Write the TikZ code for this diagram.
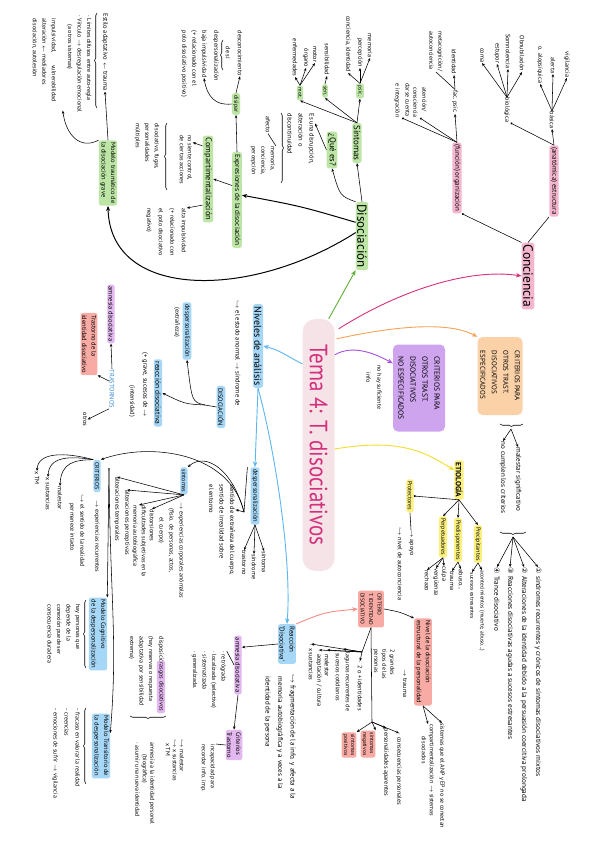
\documentclass[tikz,border=0pt]{standalone}
\usepackage{fontspec}
\setmainfont{PT Sans}
\newfontfamily\dv{DejaVu Sans}
\usetikzlibrary{arrows.meta,calc,decorations.pathreplacing}
\definecolor{cgreen}{HTML}{BDE6A6}
\definecolor{cblue}{HTML}{A7D7F7}
\definecolor{cpink}{HTML}{F4B6CF}
\definecolor{corange}{HTML}{FBD2A8}
\definecolor{cpurple}{HTML}{CFA4EE}
\definecolor{clav}{HTML}{E3B7EF}
\definecolor{cyellow}{HTML}{FBF07E}
\definecolor{csalmon}{HTML}{F8AAA4}
\definecolor{ctitlebg}{HTML}{F6E3E7}
\definecolor{ctitle}{HTML}{D3307C}
\definecolor{agreen}{HTML}{5FAE3A}
\definecolor{amag}{HTML}{D8307E}
\definecolor{aorange}{HTML}{F6A255}
\definecolor{apurple}{HTML}{A651E2}
\definecolor{ayellow}{HTML}{F4DD2C}
\definecolor{ablue}{HTML}{5CB6F2}
\definecolor{asalmon}{HTML}{F48E86}
\definecolor{tblue}{HTML}{3B8ED9}
\begin{document}
\begin{tikzpicture}[x=1pt,y=1pt,
  tx/.style={rotate=-90, anchor=west, inner sep=0.5pt, align=left, font=\fontsize{6.2}{7.5}\selectfont},
  hlb/.style={tx, anchor=center, rounded corners=2.5pt, inner xsep=2.2pt, inner ysep=1.4pt},
  gbox/.style={hlb, fill=cgreen},
  bbox/.style={hlb, fill=cblue},
  pbox/.style={hlb, fill=clav},
  sbox/.style={hlb, fill=csalmon},
  ybox/.style={hlb, fill=cyellow},
  kbox/.style={hlb, fill=cpink},
  ln/.style={draw=black, line width=0.55pt},
  ar/.style={ln, -{Stealth[length=3.2pt,width=2.6pt]}},
  dt/.style={ln, -{Circle[length=2pt]}},
  bar/.style={draw=black, line width=1pt, -{Stealth[length=5pt,width=4pt]}},
  mar/.style={line width=0.9pt, -{Stealth[length=5.5pt,width=4.5pt]}},
  brc/.style={ln, decorate, decoration={brace, amplitude=2.5pt}},
  brcm/.style={ln, decorate, decoration={brace, amplitude=2.5pt, mirror}}
]
\fill[white] (0,0) rectangle (600,-848);
\useasboundingbox (0,0) rectangle (600,-848);

% ---------- title ----------
\node[rotate=-90, fill=ctitlebg, rounded corners=13pt, text=ctitle, font=\fontsize{25}{27}\selectfont, minimum width=252pt, minimum height=32pt, inner sep=0pt] (tema) at (318.5,-445) {\scalebox{0.84}[1]{Tema 4: T. disociativos}};

% ---------- main nodes ----------
\node[gbox, font=\fontsize{13}{15}\selectfont] (dis) at (362,-236) {Disociación};
\node[kbox, font=\fontsize{13.5}{15}\selectfont] (conc) at (528,-276) {Conciencia};
\node[bbox, font=\fontsize{10}{12}\selectfont] (niv) at (258,-346) {Niveles de análisis};
\node[hlb, fill=corange, rounded corners=5pt, font=\fontsize{7}{11.5}\selectfont, minimum width=78pt, minimum height=45pt] (oesp) at (500,-376) {CRITERIOS PARA\\OTROS TRAST.\\DISOCIATIVOS\\ESPECIFICADOS};
\node[hlb, fill=cpurple, rounded corners=5pt, font=\fontsize{7.5}{12}\selectfont, minimum width=87pt, minimum height=52pt] (pne) at (419,-388) {CRITERIOS PARA\\OTROS TRAST.\\DISOCIATIVOS\\NO ESPECIFICADOS};
\node[ybox, font=\bfseries\fontsize{7.5}{9}\selectfont] (eti) at (459,-480) {ETIOLOGÍA};
\node[bbox, font=\fontsize{7}{10}\selectfont] (reac) at (287,-644) {Reacción\\`Disociativa'};

% ---------- main coloured arrows ----------
\draw[mar, agreen] ($(tema.north west)+(-6,0)$) -- (dis.south east);
\draw[mar, amag] ($(tema.north west)+(4,-10)$) .. controls (400,-290) and (470,-268) .. (conc.south);
\draw[mar, aorange] ($(tema.north west)+(2,-20)$) .. controls (400,-325) and (450,-322) .. (oesp.south west);
\draw[mar, apurple] ($(tema.north west)+(0,-36)$) .. controls (352,-345) and (372,-352) .. ($(pne.south west)+(0,-19)$);
\draw[mar, ayellow] ($(tema.north)+(0,-4)$) .. controls (400,-438) and (425,-452) .. ($(eti.south west)!0.25!(eti.south east)$);
\draw[mar, ablue] ($(tema.south west)+(0,-45)$) .. controls (290,-358) and (280,-350) .. (niv.north);

% ---------- Disociación subtree ----------
\node[gbox, font=\fontsize{9}{10}\selectfont] (sint) at (357,-143) {Síntomas};
\node[gbox, font=\fontsize{8.5}{10}\selectfont] (qes) at (332,-150) {¿Qué es?};
\node[gbox, font=\fontsize{7.3}{9}\selectfont] (exd) at (237,-200) {Expresiones de la disociación};
\node[gbox, font=\fontsize{8.3}{9}\selectfont] (cmp) at (208,-179) {Compartimentalización};
\node[gbox, font=\fontsize{6}{7}\selectfont] (dsp) at (236,-104) {disipar};
\node[gbox, font=\fontsize{6.5}{9.5}\selectfont] (mtg) at (108,-173) {Modelo traumático de\\la disociación grave};

\draw[ar] (dis.west) -- (sint.east);
\draw[ar] (dis.south west) .. controls (340,-196) .. (qes.east);
\draw[bar] ($(dis.south west)!0.3!(dis.south east)$) .. controls (300,-206) .. ($(exd.north west)!0.45!(exd.north east)$);
\draw[bar] ($(dis.south west)!0.45!(dis.south east)$) .. controls (250,-300) and (110,-300) .. (mtg.east);

% Síntomas
\node[gbox, font=\fontsize{5.5}{6}\selectfont] (ps) at (360,-91) {psic.};
\node[gbox, font=\fontsize{5.5}{6}\selectfont] (se) at (325,-91) {sen.};
\node[gbox, font=\fontsize{5.5}{6}\selectfont] (mo) at (300,-93) {mot.};
\draw[ar] (sint.west) -- (ps.east);
\draw[ar] (sint.west) -- (se.east);
\draw[ar] (sint.west) -- (mo.east);
\node[tx, anchor=east] (ps1) at (370,-58) {memoria};
\node[tx, anchor=east] (ps2) at (360,-68) {percepción};
\node[tx, anchor=east] (ps3) at (348,-73) {conciencia, identidad};
\draw[ar] (ps.west) -- (ps1.east);
\draw[ar] (ps.west) -- (ps2.east);
\draw[ar] (ps.west) -- (ps3.east);
\node[tx, anchor=east] (se1) at (327,-76) {sensibilidad};
\draw[ar] (se.west) -- (se1.east);
\node[tx, anchor=east] (mo1) at (315,-63) {motor};
\node[tx, anchor=east] (mo2) at (306,-68) {órgano};
\node[tx, anchor=east] (mo3) at (295,-77) {enfermedades};
\draw[ar] (mo.west) -- (mo1.east);
\draw[ar] (mo.west) -- (mo2.east);
\draw[ar] (mo.west) -- (mo3.east);

% ¿Qué es?
\node[tx, font=\fontsize{6.5}{11}\selectfont] (eud) at (301,-113) {Es una disrupción,\\alteración o\\discontinuidad};
\draw[ar] (qes.south) -- ($(eud.north west)!0.2!(eud.north east)$);
\draw[brc] (281,-113) -- (281,-183);
\node[tx] (afe) at (268,-116) {afecto};
\node[tx, font=\fontsize{6}{9.5}\selectfont] (mcp) at (263,-146) {memoria,\\conciencia,\\percepción};
\draw[ln] (afe.east) -- (mcp.north west);

% Expresiones
\draw[ar] ($(exd.south west)!0.35!(exd.south east)$) -- (cmp.north);
\draw[ar] (exd.west) -- (dsp.east);
\node[tx] (dc1) at (240,-30) {desconocimiento};
\node[tx] (dc2) at (228,-46) {de sí};
\node[tx] (dc3) at (216,-30) {despersonalización};
\node[tx] (dc4) at (204,-30) {baja impulsividad};
\node[tx] (dc5) at (194,-30) {(+ relacionado con el};
\node[tx] (dc6) at (184,-30) {polo disociativo positivo)};
\draw[brcm] (223,-40) -- (223,-70);
\draw[ar] (dsp.west) -- (dc1.east);
\draw[ar] (dsp.south) .. controls (215,-106) and (207,-96) .. (dc4.east);

% Compartimentalización
\node[tx, font=\fontsize{6}{8}\selectfont] (nsc) at (186,-135) {no siente control,\\de ciertas acciones};
\draw[brcm] (167,-123) -- (167,-190);
\node[tx, font=\fontsize{6}{9.5}\selectfont] (pm) at (147,-123) {disociativa, fugas,\\personalidades\\múltiples};
\draw[ar] ($(cmp.south west)!0.12!(cmp.south east)$) -- ($(nsc.north west)!0.15!(nsc.north east)$);
\node[tx, font=\fontsize{6}{11.5}\selectfont] (ai) at (166,-208) {alta impulsividad\\(+ relacionado con\\el polo disociativo\\negativo)};
\draw[ar] ($(cmp.south west)!0.8!(cmp.south east)$) -- (ai.north west);

% Modelo traumático
\node[tx, font=\fontsize{6.5}{8}\selectfont] (esa) at (105,-13) {Estilo adaptativo $\leftarrow$ trauma};
\draw[ar] (mtg.west) -- (esa.east);
\draw[brcm] (97,-13) -- (97,-108);
\node[tx, font=\fontsize{6}{9.5}\selectfont] (lim) at (79,-15) {· Límites difusos entre auto-regla\\· Vínculo $\to$ desregulación emocional\\\hspace*{1.5em}(a otros sistemas)};
\node[tx, font=\fontsize{6}{9.5}\selectfont] (imp) at (44,-18) {impulsividad, \hspace{1.5em} vulnerabilidad\\alteración $\leftarrow$ mediadores\\disociación, autolesión};
\draw[ar] (mtg.south west) .. controls (80,-150) and (66,-135) .. ($(imp.north east)+(6,-8)$);

% ---------- Conciencia subtree ----------
\node[kbox, font=\fontsize{7}{8}\selectfont] (est) at (554,-181) {(anatómica) estructura};
\node[kbox, font=\fontsize{7}{8}\selectfont] (org) at (457,-178) {(función) organización};
\draw[ln] (conc.west) -- (est.south east);
\draw[dt] (conc.south west) -- (org.north east);
\node[tx, anchor=east] (bas) at (552,-129) {básica};
\draw[ar] (est.west) -- (bas.east);
\node[tx, anchor=east] (b1) at (567,-78) {vigilancia};
\node[tx, anchor=east] (b2) at (553,-74) {alerta};
\node[tx, anchor=east] (b3) at (540,-84) {o. alopsíquica};
\draw[ar] (bas.west) -- (b1.east);
\draw[ar] (bas.west) -- (b2.east);
\draw[ar] (bas.west) -- (b3.east);
\node[tx, anchor=east] (bio) at (507,-123) {biológica};
\draw[dt] (est.west) -- (bio.north east);
\node[tx, anchor=east] (c1n) at (522,-72) {Obnubilación};
\node[tx, anchor=east] (c2n) at (508,-69) {Somnolencia};
\node[tx, anchor=east] (c3n) at (497,-64) {estupor};
\node[tx, anchor=east] (c4n) at (482,-63) {coma};
\draw[ar] (bio.west) -- (c1n.east);
\draw[ar] (bio.west) -- (c2n.east);
\draw[ar] (bio.west) -- (c3n.east);
\draw[ar] (bio.west) -- (c4n.east);
\node[tx, anchor=east] (fps) at (455,-114) {fac. psic.};
\draw[ar] (org.west) -- (fps.east);
\node[tx, anchor=east] (idd) at (454,-75) {identidad};
\draw[ar] (fps.west) -- (idd.east);
\node[tx, anchor=east, font=\fontsize{6}{9}\selectfont] (mtc) at (436,-72) {metacognición/\\autoconciencia};
\draw[ln] (fps.west) -- (mtc.east);
\node[tx, anchor=east, font=\fontsize{6}{9}\selectfont] (atc) at (420,-118) {atención/\\consciencia};
\draw[dt] (org.west) -- (atc.east);
\node[tx, anchor=east, font=\fontsize{6}{10}\selectfont] (dci) at (402,-118) {darse cuenta\\e integración};
\draw[dt] (org.west) -- (dci.east);

% ---------- especificados ----------
\draw[brc] (523,-424) -- (500,-424);
\coordinate (br1) at (511,-429);
\node[tx, font=\fontsize{7}{8}\selectfont] (ms) at (518,-447) {malestar significativo};
\node[tx, font=\fontsize{7}{8}\selectfont] (nc) at (503,-441) {no cumplen los criterios};
\draw[ar] (br1) -- (ms.west);
\draw[ar] (br1) -- (nc.west);
\draw[brc] (526,-532) -- (500,-532);
\coordinate (br2) at (513,-537);
\node[tx, font=\fontsize{7.2}{8}\selectfont] (i1) at (538,-567) {{\dv ①} síndromes recurrentes y crónicos de síntomas disociativos mixtos};
\node[tx, font=\fontsize{7.2}{8}\selectfont] (i2) at (524,-567) {{\dv ②} Alteraciones de la identidad debido a la persuasión coercitiva prolongada};
\node[tx, font=\fontsize{7.2}{8}\selectfont] (i3) at (510,-567) {{\dv ③} Reacciones disociativas agudas a sucesos estresantes};
\node[tx, font=\fontsize{7.2}{8}\selectfont] (i4) at (497,-567) {{\dv ④} Trance disociativo};
\draw[ar] (br2) -- (i1.west);
\draw[ar] (br2) -- (i2.west);
\draw[ar] (br2) -- (i3.west);
\draw[ar] (br2) -- (i4.west);

% ---------- no especificados ----------
\node[tx, font=\fontsize{6}{11}\selectfont] (nhs) at (374,-365) {no hay suficiente\\\hspace*{1.2em}info};

% ---------- Etiología ----------
\node[ybox, font=\fontsize{6}{7}\selectfont] (prec) at (478,-544) {Precipitantes};
\node[ybox, font=\fontsize{6}{7}\selectfont] (pred) at (458,-540) {Predisponentes};
\node[ybox, font=\fontsize{6}{7}\selectfont] (perp) at (443,-537) {Perpetuadores};
\node[ybox, font=\fontsize{6}{7}\selectfont] (prot) at (410,-496) {Protectores};
\draw[ar] (eti.east) -- (prec.west);
\draw[ar] (eti.east) -- (pred.west);
\draw[ar] (eti.east) -- (perp.west);
\draw[dt] (eti.east) -- (prot.north);
\node[tx] (pt1) at (411,-530) {$\to$ apoyo};
\node[tx] (pt2) at (400,-527) {$\hookrightarrow$ nivel de autoconciencia};
\draw[ln] (prot.east) -- (pt1.west);
\node[tx, font=\fontsize{5.5}{7}\selectfont] (pc1) at (482,-570) {acontecimientos (muerte, abuso...)};
\node[tx, font=\fontsize{5.5}{7}\selectfont] (pc2) at (472,-572) {sucesos estresantes};
\draw[ar] (prec.east) -- (pc1.west);
\draw[ar] (prec.east) -- (pc2.west);
\node[tx] (pd1) at (461,-569) {abuso...};
\node[tx] (pd2) at (452,-571) {trauma};
\draw[ar] (pred.east) -- (pd1.west);
\draw[ar] (pred.east) -- (pd2.west);
\node[tx] (pp1) at (444,-566) {culpa};
\node[tx] (pp2) at (436,-568) {vergüenza};
\node[tx] (pp3) at (427,-570) {rechazo};
\draw[ar] (perp.east) -- (pp1.west);
\draw[ar] (perp.east) -- (pp2.west);
\draw[ar] (perp.east) -- (pp3.west);

% ---------- Niveles de análisis ----------
\node[tx, font=\fontsize{6.5}{8}\selectfont] (eea) at (238,-300) {$\hookrightarrow$ el estado anormal $\to$ síndrome de};
\node[bbox, font=\fontsize{6.5}{8}\selectfont] (dsn) at (221,-407) {DISOCIACIÓN};
\coordinate (b1) at (205,-405);
\draw[ln] (dsn.south) -- (b1);
\node[bbox, font=\fontsize{6.5}{8}\selectfont] (desp) at (187,-331) {despersonalización};
\node[tx] (ext) at (177,-307) {(extrañeza)};
\node[bbox, font=\fontsize{7.5}{9}\selectfont] (rdi) at (158,-393) {reacción disociativa};
\node[tx, font=\fontsize{6.5}{8}\selectfont] (grv) at (145,-352) {(+ grave, sucesos de $\to$};
\node[tx] (inten) at (132,-385) {(intensidad)};
\draw[ar] (b1) .. controls (192,-402) .. (desp.east);
\draw[ar] (b1) .. controls (185,-404) .. (rdi.north);
\node[tx, text=tblue, font=\fontsize{6.5}{8}\selectfont] (tra) at (112,-369) {TRASTORNOS};
\node[pbox, font=\fontsize{6.5}{8}\selectfont] (amd) at (111,-314) {amnesia disociativa};
\node[sbox, font=\fontsize{6.5}{9.5}\selectfont] (tid) at (89,-344) {Trastorno de la\\identidad disociativo};
\node[tx] (otr) at (85,-412) {otros};
\draw[ar] (tra.west) -- (amd.east);
\draw[ar] ($(tra.south west)!0.3!(tra.south east)$) -- (tid.north east);
\draw[ar] (tra.south east) -- (otr.north);

% ---------- despersonalización ----------
\draw[mar, ablue] (niv.east) -- ($(niv.east)+(-3,-79)$) coordinate (dtop);
\node[bbox, font=\fontsize{6.5}{8}\selectfont, anchor=west] (desp2) at (dtop) {despersonalización};
\node[tx] (s1) at (264,-551) {síntoma};
\node[tx] (s2) at (254,-554) {síndrome};
\node[tx] (s3) at (244,-550) {trastorno};
\draw[ar] (desp2.east) -- (s1.west);
\draw[ar] (desp2.east) -- (s2.west);
\draw[ar] (desp2.east) -- (s3.west);
\node[tx, font=\fontsize{6.5}{10.5}\selectfont] (sec) at (222,-484) {sentido de extrañeza del cuerpo,\\sentido de irrealidad sobre\\el entorno};
\coordinate (dp) at (244,-512);
\draw[ln] ($(desp2.south west)+(-3,0)$) -- (dp);
\draw[ar] (dp) -- ($(sec.north west)!0.28!(sec.north east)$);
\node[bbox, font=\fontsize{6}{7}\selectfont] (sint2) at (184,-481) {síntomas};
\node[bbox, font=\fontsize{6}{7}\selectfont] (crit) at (97,-476) {CRITERIOS};
\draw[ar] (dp) .. controls (232,-468) and (205,-452) .. (sint2.north west);
\draw[ar] (dp) .. controls (230,-452) and (150,-442) .. (crit.north west);
\coordinate (c1) at (109,-468);
\node[tx, font=\fontsize{6}{7}\selectfont] (exr) at (97,-500) {$\to$ experiencias recurrentes};
\node[tx, font=\fontsize{6}{10}\selectfont] (srp) at (77,-494) {$\hookrightarrow$ el sentido de la realidad\\\hspace*{1.5em}permanece intacto};
\node[tx] (k1) at (60,-486) {malestar};
\node[tx] (k2) at (48,-477) {x sustancias};
\node[tx] (k3) at (37,-471) {x TM};
\draw[ar] (crit.south west) .. controls (75,-460) and (61,-462) .. (k1.west);
\draw[ar] (crit.south west) .. controls (70,-456) and (49,-456) .. (k2.west);
\draw[ar] (crit.south west) .. controls (65,-452) and (38,-452) .. (k3.west);
\node[tx, font=\fontsize{6}{10}\selectfont] (eca) at (171,-502) {$\to$ experiencias corporales anómalas\\\hspace*{1em}(fisio. de personas, actos,\\\hspace*{2.5em}el cuerpo)};
\node[tx] (d1) at (152,-509) {distorsiones};
\node[tx, font=\fontsize{6}{8.5}\selectfont] (d2) at (139,-505) {dificultades subjetivas en la\\memoria autobiográfica};
\node[tx] (d3) at (127,-490) {alteraciones perceptivas};
\node[tx] (d4) at (117,-477) {alteraciones temporales};
\draw[ar] (sint2.east) -- (d1.west);
\draw[ar] (sint2.east) -- (d2.west);
\draw[ar] (sint2.east) -- (d3.west);
\draw[ar] (sint2.east) -- (d4.west);

% Modelos
\node[bbox, font=\fontsize{6.5}{9.5}\selectfont] (mc) at (98,-634) {Modelo Cognitivo\\de la despersonalización};
\node[bbox, font=\fontsize{6.5}{9.5}\selectfont] (mt) at (101,-746) {Modelo Transitorio de\\la despersonalización};
\draw[ar] (c1) -- (mc.north west);
\draw[ar] (c1) .. controls (110,-600) and (118,-640) .. ($(mt.north west)!0.3!(mt.north east)$);
\draw[brcm] (86,-600) -- (86,-668);
\node[tx, font=\fontsize{6}{9.5}\selectfont] (hpq) at (64,-604) {hay personas que\\depende de la\\conexión puede ser\\consecuencia duradera};
\draw[brcm] (86,-708) -- (86,-784);
\node[tx, font=\fontsize{6}{11}\selectfont] (fvr) at (66,-708) {- fracaso en valorar la realidad\\- creencias\\- emociones de sufrir $\to$ vigilancia};

% ---------- Reacción ----------
\draw[mar, ablue] (niv.east) .. controls (275,-450) and (292,-560) .. (reac.west);
\node[pbox, font=\fontsize{6.5}{8}\selectfont] (am2) at (238,-665) {amnesia disociativa};
\draw[ar] (reac.south) -- ($(am2.north west)!0.2!(am2.north east)$);
\node[tx, font=\fontsize{7}{12.5}\selectfont] (frg) at (280,-674) {$\hookrightarrow$ fragmentación de la info. y afecta a la\\\hspace*{0.3em}memoria autobiográfica y a veces a la\\\hspace*{0.3em}identidad de la persona};
\node[sbox, font=\fontsize{5.5}{8.5}\selectfont, inner sep=2.5pt] (crt) at (371,-609) {CRITERIO\\T. IDENTIDAD\\DISOCIATIVO};
\draw[mar, asalmon] (reac.north west) .. controls (325,-612) .. (crt.south);

\node[tx, font=\fontsize{6}{9.5}\selectfont] (am2l) at (209,-651) {· retrógrada\\· localizada (selectiva)\\· sistematizada\\· generalizada.};
\draw[ln] (am2.south) -- (am2l.north west);
\node[pbox, font=\fontsize{6.5}{9}\selectfont] (ct) at (234,-745) {Criterios\\Trastorno};
\draw[ar] (am2.east) -- (ct.west);
\node[tx, font=\fontsize{6}{9}\selectfont] (icp) at (208,-744) {incapacidad para\\recordar info. imp.};
\draw[ln] (ct.south) -- (icp.north west);
\node[tx, font=\fontsize{6}{7}\selectfont] (mxt) at (175,-739) {$\hookrightarrow$ malestar\\$\hookrightarrow$ x sustancias\\\hspace*{0.6em}x TM};
\node[tx, font=\fontsize{6}{7.5}\selectfont] (aip) at (145,-742) {amnesia a la identidad personal\\\hspace*{2em}(biográfica)\\· asumir una nueva identidad};
\node[tx] (dsp0) at (161,-636) {disposición};
\node[pbox, font=\fontsize{6}{7}\selectfont] (rgd) at (161,-687) {rasgos disociativos};
\node[tx, font=\fontsize{6}{9.5}\selectfont] (hrr) at (141,-636) {(hay reservas o respuesta\\adaptativa por sensibilidad\\extrema)};
\draw[brcm] (130,-716) -- (166,-716);

% ---------- T. identidad disociativo ----------
\coordinate (fn) at (362,-652);
\draw[ln] (crt.east) -- (fn);
\node[tx] (idn) at (360,-661) {· 2 o + identidades};
\node[tx, font=\fontsize{6}{10}\selectfont] (lag) at (343,-649) {· lagunas recurrentes de\\\hspace*{0.6em}sucesos cotidianos};
\node[tx] (mal2) at (327,-650) {· malestar};
\node[tx] (acu) at (319,-650) {· aceptación / cultura};
\node[tx] (xsu) at (311,-644) {· x sustancias};
\draw[ar] (fn) -- (idn.west);
\draw[ar] (fn) -- (lag.west);
\draw[ar] (fn) -- (mal2.west);
\draw[ar] (fn) -- (acu.west);
\draw[ar] (fn) -- (xsu.west);
\node[tx, font=\fontsize{6}{8}\selectfont] (dgt) at (384,-649) {2 grandes\\tipos de las\\personas};
\node[tx] (pap) at (386,-728) {personalidades aparentes};
\node[sbox, font=\fontsize{5.5}{7}\selectfont] (neg) at (368,-744) {síntomas\\negativos};
\node[sbox, font=\fontsize{5.5}{7}\selectfont] (pos) at (349,-745) {síntomas\\positivos};
\coordinate (fn2) at (372,-722);
\draw[ln] (crt.east) -- (fn2);
\draw[ar] (fn2) -- (neg.north west);
\draw[ar] (fn2) -- (pos.north west);
\draw[ar] (fn2) -- (pap.west);
\node[tx] (cpp) at (399,-733) {· consecuencias personales};
\draw[ar] (fn2) -- (cpp.west);

% ---------- Nivel de la disociación estructural ----------
\node[sbox, font=\fontsize{6.5}{9}\selectfont] (nds) at (423,-662) {Nivel de la disociación\\estructural de la personalidad};
\draw[ar] (crt.north) .. controls (400,-612) .. (nds.south west);
\node[tx, font=\fontsize{6}{8}\selectfont] (sqa) at (442,-723) {sistemas que el ANP y EP no se conectan};
\node[tx, font=\fontsize{6}{8}\selectfont] (cpz) at (428,-724) {compartimentalización $\to$ sistemas\\\hspace*{2em}disociados};
\draw[ar] (nds.east) -- (sqa.west);
\draw[ar] (nds.east) -- (cpz.west);
\node[tx] (trm) at (405,-669) {$\to$ trauma};
\end{tikzpicture}
\end{document}
